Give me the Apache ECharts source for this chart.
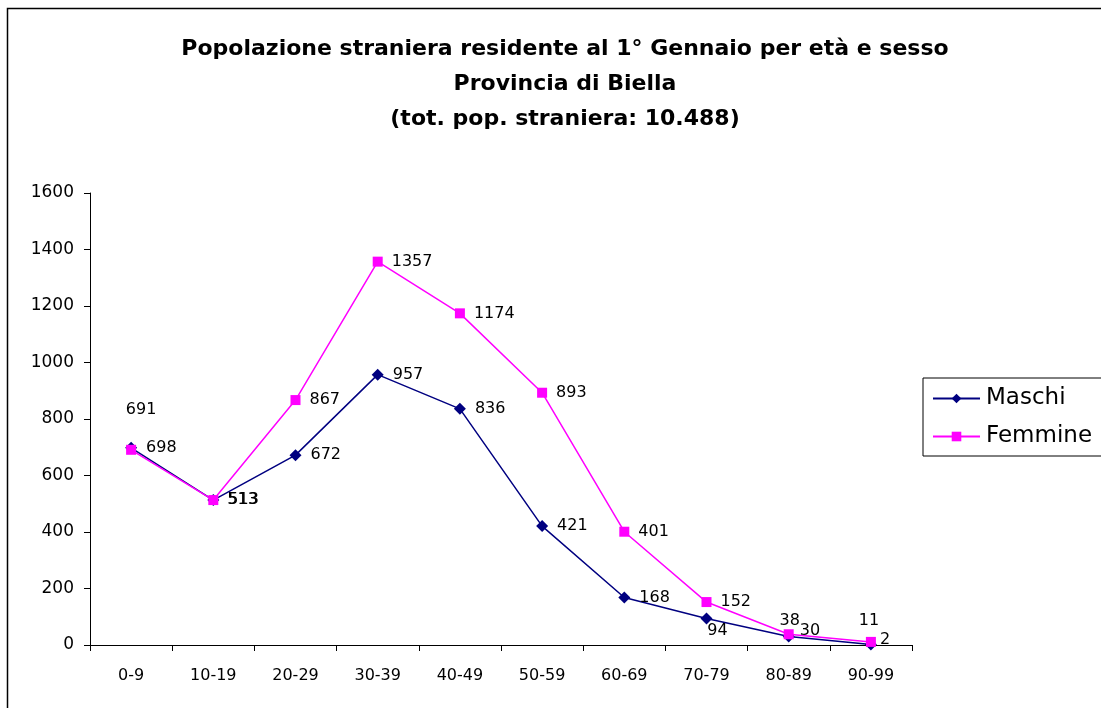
<!DOCTYPE html>
<html>
<head>
<meta charset="utf-8">
<script src="https://cdn.jsdelivr.net/npm/echarts@6/dist/echarts.min.js"></script>
<style>
  html, body { margin: 0; padding: 0; background: #fff; }
  #chart { width: 1101px; height: 708px; }
</style>
</head>
<body>
<div id="chart"></div>
<script>
const categories = ['0-9', '10-19', '20-29', '30-39', '40-49', '50-59', '60-69', '70-79', '80-89', '90-99'];
const maschi = [698, 513, 672, 957, 836, 421, 168, 94, 30, 2];
const femmine = [691, 513, 867, 1357, 1174, 893, 401, 152, 38, 11];

// label placement tweaks, by point index
const maschiLabels = {
  7: { position: 'bottom', distance: 0, offset: [11, -2] },
  8: { offset: [-4, -6] },
  9: { offset: [-6, -5] }
};
const femmineLabels = {
  0: { position: 'top', offset: [10, -18] },
  8: { position: 'top', distance: 2, offset: [1, 2] },
  9: { position: 'top', distance: 2, offset: [-2, -6] }
};

function withLabels(values, overrides) {
  return values.map((v, i) => overrides[i] ? { value: v, label: overrides[i] } : v);
}

const font = "'DejaVu Sans', 'Liberation Sans', sans-serif";
const chart = echarts.init(document.getElementById('chart'));

chart.setOption({
  animation: false,
  textStyle: { fontFamily: font },
  title: {
    text: 'Popolazione straniera residente al 1° Gennaio per età e sesso\nProvincia di Biella\n(tot. pop. straniera: 10.488)',
    left: 560,
    textAlign: 'center',
    top: 27,
    textStyle: { fontSize: 22, fontWeight: 'bold', color: '#000', lineHeight: 35, fontFamily: font }
  },
  graphic: [{
    type: 'rect',
    shape: { x: 7.5, y: 8.5, width: 1200, height: 800 },
    style: { fill: 'none', stroke: '#000', lineWidth: 1.5 },
    silent: true
  }],
  legend: {
    left: 923,
    top: 378,
    orient: 'vertical',
    itemWidth: 47,
    itemHeight: 12,
    itemGap: 15,
    padding: [9, 30, 8, 9],
    borderColor: '#000',
    borderWidth: 1,
    textStyle: { fontSize: 23, color: '#000', fontFamily: font, padding: [0, 0, 0, 1] },
    data: ['Maschi', 'Femmine']
  },
  grid: { left: 90, right: 189, top: 193, bottom: 63 },
  xAxis: {
    type: 'category',
    data: categories,
    boundaryGap: true,
    axisLine: { lineStyle: { color: '#000', width: 1 } },
    axisTick: { show: true, length: 6, inside: false, lineStyle: { color: '#000' } },
    axisLabel: { fontSize: 16, color: '#000', margin: 23, fontFamily: font },
    splitLine: { show: false }
  },
  yAxis: {
    type: 'value',
    min: 0,
    max: 1600,
    interval: 200,
    axisLine: { show: true, lineStyle: { color: '#000', width: 1 } },
    axisTick: { show: true, length: 6, lineStyle: { color: '#000' } },
    axisLabel: { fontSize: 17, color: '#000', margin: 16, fontFamily: font, formatter: v => String(v) },
    splitLine: { show: false }
  },
  series: [
    {
      name: 'Maschi',
      type: 'line',
      data: withLabels(maschi, maschiLabels),
      color: '#000080',
      symbol: 'diamond',
      symbolSize: 12,
      lineStyle: { width: 1.5, color: '#000080' },
      itemStyle: { color: '#000080' },
      label: { show: true, position: 'right', distance: 9, fontSize: 16, color: '#000', fontFamily: font }
    },
    {
      name: 'Femmine',
      type: 'line',
      data: withLabels(femmine, femmineLabels),
      color: '#FF00FF',
      symbol: 'rect',
      symbolSize: 10,
      lineStyle: { width: 1.5, color: '#FF00FF' },
      itemStyle: { color: '#FF00FF' },
      label: { show: true, position: 'right', distance: 9, fontSize: 16, color: '#000', fontFamily: font }
    }
  ]
});
</script>
</body>
</html>
